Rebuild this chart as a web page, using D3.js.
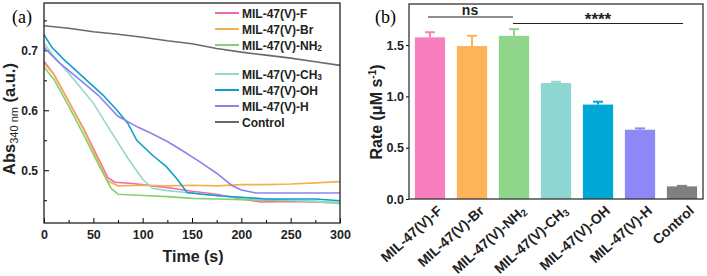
<!DOCTYPE html>
<html>
<head>
<meta charset="utf-8">
<script src="https://cdn.jsdelivr.net/npm/d3@7"></script>
<style>
  body { margin: 0; background: #fff; }
  svg { font-family: Arial, "Liberation Sans", sans-serif; }
  .tick text { font-weight: bold; }
</style>
</head>
<body>
<svg id="chart" width="707" height="276"></svg>
<script>
// ---- panel (a) data: time (s) and absorbance at 340 nm ----
const seriesNames = ["MIL-47(V)-F", "MIL-47(V)-Br", "MIL-47(V)-NH2", "MIL-47(V)-CH3", "MIL-47(V)-OH", "MIL-47(V)-H", "Control"];
const lineColors = ["#f06ab0", "#f5b04e", "#85d070", "#96d6d0", "#0ea0c8", "#8e82ea", "#6a6a6a"];

const tF = [0, 10, 25, 40, 55, 65, 72, 90, 110, 130, 150, 175, 200, 220, 250, 275, 300];
const absF = [0.682, 0.66, 0.615, 0.57, 0.52, 0.487, 0.48, 0.478, 0.474, 0.47, 0.465, 0.46, 0.452, 0.447, 0.448, 0.447, 0.445];
const tBr = [0, 10, 25, 40, 55, 65, 75, 100, 125, 150, 175, 200, 225, 250, 275, 300];
const absBr = [0.678, 0.66, 0.615, 0.568, 0.515, 0.482, 0.474, 0.475, 0.474, 0.475, 0.474, 0.476, 0.476, 0.477, 0.479, 0.481];
const tNH2 = [0, 10, 25, 40, 55, 68, 75, 100, 125, 150, 175, 200, 225, 250, 275, 300];
const absNH2 = [0.672, 0.652, 0.607, 0.56, 0.51, 0.47, 0.46, 0.458, 0.456, 0.453, 0.452, 0.451, 0.45, 0.449, 0.448, 0.446];
const tCH3 = [0, 10, 25, 50, 67, 85, 100, 110, 125, 150, 175, 200, 225, 250, 275, 300];
const absCH3 = [0.712, 0.69, 0.662, 0.612, 0.567, 0.52, 0.485, 0.47, 0.466, 0.462, 0.458, 0.454, 0.452, 0.45, 0.448, 0.444];
const tOH = [0, 8, 20, 40, 60, 74, 85, 94, 110, 124, 135, 145, 160, 180, 200, 225, 250, 275, 300];
const absOH = [0.726, 0.705, 0.685, 0.655, 0.625, 0.6, 0.578, 0.55, 0.525, 0.506, 0.485, 0.463, 0.46, 0.457, 0.455, 0.452, 0.452, 0.452, 0.449];
const tH = [0, 15, 35, 55, 75, 95, 107, 125, 140, 158, 175, 190, 200, 215, 250, 300];
const absH = [0.705, 0.68, 0.653, 0.625, 0.59, 0.572, 0.563, 0.548, 0.533, 0.514, 0.495, 0.475, 0.467, 0.462, 0.462, 0.462];
const tCtrl = [0, 25, 50, 75, 100, 125, 150, 175, 200, 225, 250, 275, 300];
const absCtrl = [0.741, 0.737, 0.731, 0.727, 0.722, 0.716, 0.711, 0.703, 0.697, 0.692, 0.687, 0.681, 0.675];

const seriesTimes = [tF, tBr, tNH2, tCH3, tOH, tH, tCtrl];
const seriesAbs = [absF, absBr, absNH2, absCH3, absOH, absH, absCtrl];

// ---- panel (b) data: rate (uM/s) with upper error ----
const barNames = ["MIL-47(V)-F", "MIL-47(V)-Br", "MIL-47(V)-NH2", "MIL-47(V)-CH3", "MIL-47(V)-OH", "MIL-47(V)-H", "Control"];
const rates = [1.575, 1.49, 1.59, 1.13, 0.92, 0.675, 0.123];
const rateErr = [0.05, 0.10, 0.065, 0.012, 0.028, 0.013, 0.005];
const barColors = ["#f77fbe", "#fdb35a", "#8fd68a", "#8ed6d2", "#00a8d8", "#8c88f6", "#808080"];

const svg = d3.select("#chart");

// helper: write a label with "NH2"/"CH3" subscripts
function subLabel(sel, name, size) {
    const m = name.match(/^(.*?)(NH|CH)(\d)$/);
    if (!m) { sel.text(name); return; }
    sel.append("tspan").text(m[1] + m[2]);
    sel.append("tspan").text(m[3]).attr("font-size", size * 0.7).attr("dy", size * 0.15);
}

// ================= panel (a) =================
const A = { left: 44, right: 340, top: 3, bottom: 223 };
const x = d3.scaleLinear().domain([0, 300]).range([A.left, A.right]);
const y = d3.scaleLinear().domain([0.412, 0.779]).range([A.bottom, A.top]);

const ga = svg.append("g");

// minor ticks (inward)
ga.append("g").attr("transform", `translate(0,${A.bottom})`)
    .call(d3.axisTop(x).tickValues(d3.range(25, 300, 50)).tickSize(3).tickFormat(""))
    .call(g => g.select(".domain").remove());
ga.append("g").attr("transform", `translate(${A.left},0)`)
    .call(d3.axisRight(y).tickValues([0.45, 0.55, 0.65, 0.75]).tickSize(3).tickFormat(""))
    .call(g => g.select(".domain").remove());

const xAxisA = ga.append("g").attr("transform", `translate(0,${A.bottom})`)
    .call(d3.axisBottom(x).tickValues(d3.range(0, 301, 50)).tickSizeInner(-5).tickSizeOuter(0).tickPadding(7));
xAxisA.selectAll("text").attr("font-size", 12.5).attr("fill", "#222");
xAxisA.select(".domain").remove();

const yAxisA = ga.append("g").attr("transform", `translate(${A.left},0)`)
    .call(d3.axisLeft(y).tickValues([0.5, 0.6, 0.7]).tickFormat(d3.format(".1f"))
        .tickSizeInner(-5).tickSizeOuter(0).tickPadding(6));
yAxisA.selectAll("text").attr("font-size", 12).attr("fill", "#222");
yAxisA.select(".domain").remove();

const line = d3.line().x(d => x(d[0])).y(d => y(d[1]));
seriesNames.forEach((name, i) => {
    const pts = seriesTimes[i].map((t, j) => [t, seriesAbs[i][j]]);
    ga.append("path")
        .datum(pts)
        .attr("d", line)
        .attr("fill", "none")
        .attr("stroke", lineColors[i])
        .attr("stroke-width", 1.6);
});

ga.append("rect")
    .attr("x", A.left).attr("y", A.top)
    .attr("width", A.right - A.left).attr("height", A.bottom - A.top)
    .attr("fill", "none").attr("stroke", "#222").attr("stroke-width", 1.3);

// legend
const legA = ga.append("g");
seriesNames.forEach((name, i) => {
    const ly = 13 + i * 16 + (i >= 3 ? 13 : 0);
    legA.append("line")
        .attr("x1", 215).attr("x2", 239).attr("y1", ly).attr("y2", ly)
        .attr("stroke", lineColors[i]).attr("stroke-width", 2);
    const t = legA.append("text")
        .attr("x", 242).attr("y", ly + 4.5)
        .attr("font-size", 12).attr("font-weight", "bold").attr("fill", "#222");
    subLabel(t, name, 12);
});

ga.append("text").attr("x", 12).attr("y", 23)
    .attr("font-family", "'Times New Roman', 'Liberation Serif', serif")
    .attr("font-size", 18).text("(a)");

ga.append("text")
    .attr("x", 193).attr("y", 262)
    .attr("text-anchor", "middle").attr("font-size", 16).attr("font-weight", "bold")
    .attr("fill", "#222").text("Time (s)");

const yLabA = ga.append("text")
    .attr("transform", "translate(15,119) rotate(-90)")
    .attr("text-anchor", "middle").attr("font-size", 16.5).attr("font-weight", "bold").attr("fill", "#222");
yLabA.append("tspan").text("Abs");
yLabA.append("tspan").text("340 nm").attr("font-size", 11).attr("font-weight", "normal").attr("dy", 3);
yLabA.append("tspan").text(" (a.u.)").attr("dy", -3);

// ================= panel (b) =================
const B = { left: 409, right: 703, top: 4, bottom: 199 };
const xb = d3.scaleBand().domain(barNames).range([B.left, B.right]).paddingInner(0.28).paddingOuter(0.14);
const yb = d3.scaleLinear().domain([0, 1.9]).range([B.bottom, B.top]);

const gb = svg.append("g");

gb.selectAll("rect.bar")
    .data(barNames)
    .enter()
    .append("rect")
    .attr("class", "bar")
    .attr("x", d => xb(d))
    .attr("y", (d, i) => yb(rates[i]))
    .attr("width", xb.bandwidth())
    .attr("height", (d, i) => yb(0) - yb(rates[i]))
    .attr("fill", (d, i) => barColors[i]);

// error bars (upper only)
barNames.forEach((d, i) => {
    const cx = xb(d) + xb.bandwidth() / 2;
    gb.append("line")
        .attr("x1", cx).attr("x2", cx)
        .attr("y1", yb(rates[i])).attr("y2", yb(rates[i] + rateErr[i]))
        .attr("stroke", barColors[i]).attr("stroke-width", 2);
    gb.append("line")
        .attr("x1", cx - 5).attr("x2", cx + 5)
        .attr("y1", yb(rates[i] + rateErr[i])).attr("y2", yb(rates[i] + rateErr[i]))
        .attr("stroke", barColors[i]).attr("stroke-width", 2);
});

const yAxisB = gb.append("g").attr("transform", `translate(${B.left},0)`)
    .call(d3.axisLeft(yb).tickValues([0, 0.5, 1.0, 1.5]).tickFormat(d3.format(".1f")).tickSizeOuter(0).tickSize(3).tickPadding(2));
yAxisB.selectAll("text").attr("font-size", 12.5).attr("fill", "#222");
yAxisB.select(".domain").remove();

gb.append("rect")
    .attr("x", B.left).attr("y", B.top)
    .attr("width", B.right - B.left).attr("height", B.bottom - B.top)
    .attr("fill", "none").attr("stroke", "#333").attr("stroke-width", 1.3);

// rotated category labels
gb.selectAll("text.cat")
    .data(barNames)
    .enter()
    .append("text")
    .attr("class", "cat")
    .attr("text-anchor", "end")
    .attr("font-size", 14).attr("font-weight", "bold").attr("fill", "#222")
    .attr("transform", d => `translate(${xb(d) + xb.bandwidth() / 2 + 13},${B.bottom + 13}) rotate(-42)`)
    .each(function (d) { subLabel(d3.select(this), d, 14); });

// significance brackets
const xMid = i => xb(barNames[i]) + xb.bandwidth() / 2;
gb.append("line").attr("x1", xMid(0) - 2).attr("x2", xMid(2) - 1).attr("y1", 17).attr("y2", 17)
    .attr("stroke", "#222").attr("stroke-width", 1.2);
gb.append("text").attr("x", (xMid(0) + xMid(2)) / 2 - 2).attr("y", 15).attr("text-anchor", "middle")
    .attr("font-size", 14).attr("font-weight", "bold").attr("fill", "#222").text("ns");
gb.append("line").attr("x1", xMid(2) - 1).attr("x2", xMid(6) + 1).attr("y1", 23.5).attr("y2", 23.5)
    .attr("stroke", "#222").attr("stroke-width", 1.2);
gb.append("text").attr("x", 598).attr("y", 25).attr("text-anchor", "middle")
    .attr("font-size", 17).attr("font-weight", "bold").attr("fill", "#222").text("****");

gb.append("text").attr("x", 375).attr("y", 23)
    .attr("font-family", "'Times New Roman', 'Liberation Serif', serif")
    .attr("font-size", 18).text("(b)");

const yLabB = gb.append("text")
    .attr("transform", "translate(382,112) rotate(-90)")
    .attr("text-anchor", "middle").attr("font-size", 16).attr("font-weight", "bold").attr("fill", "#222");
yLabB.append("tspan").text("Rate (μM s");
yLabB.append("tspan").text("-1").attr("font-size", 10).attr("dy", -6);
yLabB.append("tspan").text(")").attr("dy", 6);
</script>
</body>
</html>
